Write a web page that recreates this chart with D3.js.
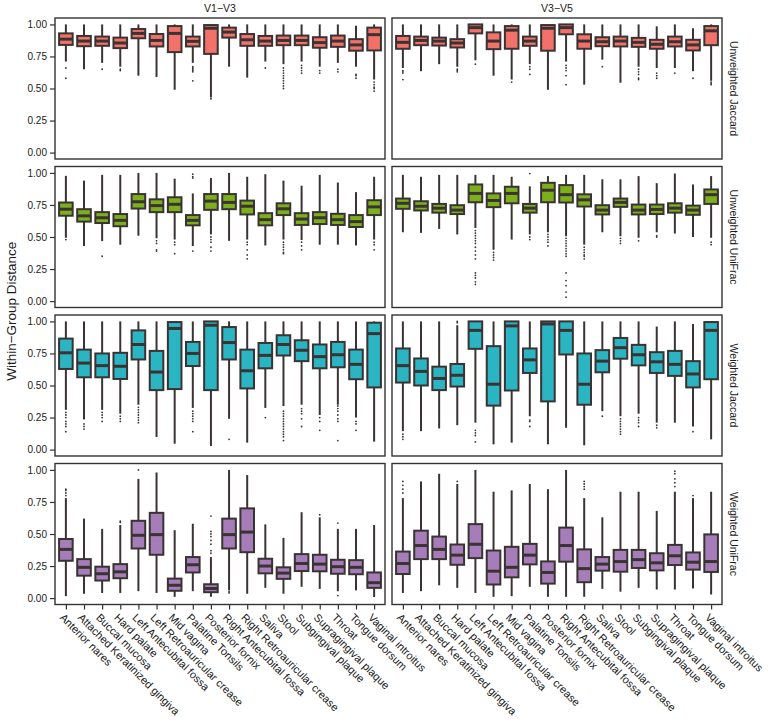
<!DOCTYPE html>
<html><head><meta charset="utf-8">
<script src="https://cdn.jsdelivr.net/npm/d3@7"></script>
<style>body{margin:0;background:#fff}svg{font-family:"Liberation Sans",Arial,sans-serif}</style>
</head><body><svg id="c" width="768" height="724"></svg>
<script>
const categories = ["Anterior nares","Attached Keratinized gingiva","Buccal mucosa","Hard palate","Left Antecubital fossa","Left Retroauricular crease","Mid vagina","Palatine Tonsils","Posterior fornix","Right Antecubital fossa","Right Retroauricular crease","Saliva","Stool","Subgingival plaque","Supragingival plaque","Throat","Tongue dorsum","Vaginal introitus"];
const regions = ["V1\u2212V3","V3\u2212V5"];
const metrics = ["Unweighted Jaccard","Unweighted UniFrac","Weighted Jaccard","Weighted UniFrac"];
const metricColors = ["#F2726A","#7DAF1C","#2BB4C1","#A67DB8"];
const yTicks = [0,0.25,0.5,0.75,1];
const yTickLabels = ["0.00","0.25","0.50","0.75","1.00"];
const yTitle = "Within\u2212Group Distance";

// each box: [lower whisker, q1, median, q3, upper whisker]
const v13UnweightedJaccard = [[0.71,0.84,0.885,0.93,1.0],[0.65,0.83,0.87,0.91,1.0],[0.70,0.833,0.87,0.905,1.0],[0.67,0.815,0.855,0.897,1.0],[0.60,0.892,0.93,0.964,1.0],[0.59,0.828,0.875,0.925,1.0],[0.49,0.784,0.93,0.987,1.0],[0.70,0.828,0.868,0.905,1.0],[0.43,0.77,0.97,0.995,1.0],[0.67,0.897,0.94,0.975,1.0],[0.585,0.833,0.88,0.925,1.0],[0.71,0.833,0.87,0.91,1.0],[0.69,0.838,0.875,0.913,1.0],[0.71,0.838,0.875,0.913,1.0],[0.67,0.818,0.858,0.90,1.0],[0.70,0.825,0.87,0.913,1.0],[0.67,0.795,0.84,0.885,0.99],[0.57,0.797,0.92,0.975,1.0]];
const v35UnweightedJaccard = [[0.66,0.81,0.86,0.91,1.0],[0.635,0.838,0.875,0.905,1.0],[0.69,0.835,0.87,0.897,1.0],[0.67,0.82,0.855,0.885,1.0],[0.72,0.93,0.975,1.0,1.0],[0.60,0.807,0.87,0.938,1.0],[0.57,0.81,0.955,0.987,1.0],[0.69,0.833,0.87,0.905,1.0],[0.49,0.795,0.97,0.995,1.0],[0.71,0.923,0.975,1.0,1.0],[0.53,0.81,0.87,0.923,1.0],[0.725,0.83,0.865,0.90,1.0],[0.545,0.828,0.87,0.905,1.0],[0.67,0.825,0.86,0.895,1.0],[0.66,0.81,0.845,0.88,0.985],[0.66,0.828,0.865,0.905,1.0],[0.635,0.797,0.84,0.88,0.97],[0.56,0.838,0.95,0.987,1.0]];
const v13UnweightedUniFrac = [[0.494,0.666,0.717,0.769,0.977],[0.43,0.62,0.665,0.717,0.94],[0.468,0.609,0.65,0.694,0.985],[0.44,0.584,0.63,0.679,0.985],[0.51,0.722,0.775,0.835,1.0],[0.49,0.694,0.745,0.794,1.0],[0.48,0.694,0.755,0.81,0.955],[0.43,0.591,0.63,0.671,0.84],[0.52,0.712,0.78,0.835,0.96],[0.47,0.717,0.77,0.835,1.0],[0.48,0.676,0.74,0.784,0.97],[0.434,0.591,0.635,0.686,0.99],[0.48,0.671,0.72,0.763,0.94],[0.476,0.594,0.64,0.686,0.90],[0.44,0.601,0.65,0.694,0.985],[0.44,0.594,0.635,0.681,0.925],[0.434,0.578,0.62,0.671,0.85],[0.48,0.671,0.735,0.787,0.97]];
const v35UnweightedUniFrac = [[0.537,0.72,0.763,0.80,0.985],[0.532,0.707,0.74,0.779,0.97],[0.563,0.69,0.725,0.758,0.985],[0.52,0.679,0.71,0.748,0.985],[0.57,0.771,0.84,0.91,0.985],[0.40,0.733,0.785,0.84,0.985],[0.48,0.763,0.84,0.892,0.97],[0.52,0.69,0.725,0.758,0.895],[0.537,0.771,0.865,0.923,0.975],[0.506,0.769,0.83,0.905,0.985],[0.44,0.738,0.79,0.833,0.985],[0.537,0.676,0.71,0.748,0.95],[0.506,0.735,0.77,0.80,0.95],[0.494,0.676,0.71,0.753,0.975],[0.537,0.679,0.715,0.753,0.92],[0.527,0.69,0.725,0.763,0.995],[0.50,0.673,0.71,0.745,0.91],[0.494,0.758,0.83,0.871,0.975]];
const v13WeightedJaccard = [[0.31,0.629,0.755,0.866,1.0],[0.235,0.564,0.675,0.78,1.0],[0.31,0.564,0.655,0.75,1.0],[0.28,0.551,0.65,0.755,1.0],[0.35,0.703,0.82,0.93,1.0],[0.098,0.464,0.605,0.77,1.0],[0.046,0.472,0.945,0.995,1.0],[0.325,0.652,0.75,0.84,1.0],[0.028,0.464,0.97,1.0,1.0],[0.24,0.703,0.835,0.956,1.0],[0.054,0.477,0.615,0.78,1.0],[0.325,0.634,0.735,0.832,1.0],[0.34,0.734,0.82,0.892,1.0],[0.35,0.69,0.775,0.853,1.0],[0.27,0.634,0.725,0.82,1.0],[0.35,0.642,0.74,0.84,1.0],[0.25,0.549,0.665,0.78,1.0],[0.062,0.485,0.905,0.99,1.0]];
const v35WeightedJaccard = [[0.144,0.523,0.655,0.789,1.0],[0.144,0.50,0.61,0.711,1.0],[0.165,0.464,0.555,0.647,1.0],[0.19,0.492,0.58,0.668,0.97],[0.21,0.786,0.93,1.0,1.0],[0.041,0.343,0.51,0.807,1.0],[0.054,0.461,0.965,1.0,1.0],[0.26,0.598,0.70,0.789,1.0],[0.041,0.376,0.98,1.0,1.0],[0.17,0.742,0.93,1.0,1.0],[0.034,0.35,0.51,0.75,1.0],[0.30,0.603,0.69,0.776,1.0],[0.26,0.709,0.795,0.871,1.0],[0.28,0.657,0.74,0.817,1.0],[0.21,0.598,0.685,0.76,0.96],[0.21,0.575,0.665,0.77,1.0],[0.18,0.485,0.59,0.69,0.98],[0.08,0.549,0.93,0.995,1.0]];
const v13WeightedUniFrac = [[0.015,0.291,0.38,0.461,0.78],[0.034,0.175,0.24,0.304,0.62],[0.04,0.137,0.19,0.245,0.54],[0.04,0.155,0.205,0.265,0.57],[0.054,0.387,0.49,0.603,0.93],[0.04,0.338,0.495,0.665,0.98],[0.01,0.057,0.10,0.152,0.53],[0.054,0.20,0.26,0.32,0.58],[0.01,0.046,0.075,0.108,0.32],[0.06,0.387,0.495,0.62,1.0],[0.034,0.358,0.515,0.70,0.96],[0.08,0.193,0.25,0.307,0.575],[0.034,0.15,0.195,0.24,0.47],[0.088,0.211,0.27,0.343,0.67],[0.072,0.209,0.265,0.338,0.63],[0.054,0.19,0.245,0.299,0.54],[0.06,0.186,0.24,0.296,0.54],[0.008,0.08,0.12,0.20,0.57]];
const v35WeightedUniFrac = [[0.04,0.188,0.27,0.363,0.78],[0.054,0.304,0.41,0.526,0.91],[0.10,0.304,0.38,0.48,0.97],[0.08,0.26,0.335,0.418,0.89],[0.04,0.312,0.42,0.577,1.0],[0.01,0.106,0.21,0.371,0.83],[0.015,0.162,0.24,0.40,0.84],[0.088,0.263,0.335,0.423,0.89],[0.01,0.113,0.20,0.286,0.85],[0.01,0.284,0.41,0.55,1.0],[0.01,0.124,0.23,0.38,0.78],[0.072,0.214,0.265,0.32,0.63],[0.05,0.206,0.285,0.376,0.83],[0.08,0.235,0.30,0.376,0.83],[0.067,0.216,0.275,0.35,0.68],[0.067,0.258,0.33,0.415,0.83],[0.075,0.222,0.28,0.356,0.78],[0.028,0.204,0.285,0.497,0.83]];

// outliers per category
const v13UnweightedJaccardOut = [[0.66,0.58],[],[0.65],[0.65,0.64],[],[],[],[0.67,0.66,0.65,0.64,0.63,0.56],[0.42],[],[],[0.66],[0.66,0.64,0.62,0.60,0.58,0.56,0.54,0.52,0.50],[0.68,0.66,0.64,0.62],[0.64,0.62],[0.65,0.63],[0.61,0.60,0.58],[0.55,0.53,0.51,0.50,0.48]];
const v35UnweightedJaccardOut = [[0.64,0.63,0.62,0.57],[],[],[0.65,0.64,0.63],[0.69],[],[0.55],[0.67,0.65,0.61],[],[0.68,0.66,0.64,0.60,0.53],[],[0.67],[],[0.65,0.63,0.61,0.58,0.57],[0.62,0.60,0.58],[0.62],[0.58],[0.55,0.54,0.53]];
const v13UnweightedUniFracOut = [[0.48],[],[0.35],[],[],[0.47,0.45,0.40,0.39],[0.46,0.44,0.37],[0.99,0.97,0.96,0.39],[0.50,0.48,0.46,0.42,0.39],[],[0.46,0.44,0.40,0.36,0.33],[],[0.46,0.44,0.42,0.40,0.38,0.37],[0.46,0.43,0.40],[],[],[],[0.46,0.44,0.40]];
const v35UnweightedUniFracOut = [[],[],[],[],[0.55,0.53,0.51,0.49,0.47,0.45,0.42,0.39,0.36,0.33,0.22,0.20,0.18,0.15,0.13],[0.38,0.36,0.34,0.32],[],[0.995,0.50,0.48],[0.52,0.50,0.48,0.46,0.43],[0.49,0.47,0.45,0.43,0.41,0.39,0.37,0.35,0.22,0.16,0.12,0.07,0.03],[0.42,0.40,0.38,0.36,0.35,0.33],[],[0.49,0.47,0.45],[0.47],[0.51,0.50],[],[],[0.46,0.44]];
const v13WeightedJaccardOut = [[0.29,0.27,0.25,0.22,0.20,0.18,0.14],[0.20,0.18,0.16],[0.29,0.27,0.25,0.22],[0.26,0.24,0.22],[0.33,0.31,0.29,0.27,0.25,0.23,0.21],[],[],[0.30,0.28,0.26,0.24,0.22,0.14],[],[0.08],[],[0.25],[0.30,0.28,0.26,0.24,0.22,0.20,0.18,0.16,0.14,0.12,0.10,0.07],[0.32,0.30,0.28,0.24,0.18],[0.25,0.22,0.15],[0.34,0.32,0.30,0.27,0.24,0.22,0.07],[0.22,0.20,0.15],[]];
const v35WeightedJaccardOut = [[0.12,0.10,0.08],[],[],[0.99,1.0],[0.15,0.13,0.11,0.06],[],[],[0.23,0.22,0.18],[],[],[],[0.26],[0.24,0.22,0.20,0.18,0.16,0.14,0.12],[0.25,0.23,0.21,0.18],[0.19,0.17],[],[0.14],[]];
const v13WeightedUniFracOut = [[0.80,0.82,0.84,0.85],[],[],[0.59,0.60],[1.0],[],[],[],[0.35,0.37,0.42,0.45,0.48,0.50,0.52,0.64],[0.05,0.04],[],[],[],[],[0.65],[0.585,0.02],[],[]];
const v35WeightedUniFracOut = [[0.82,0.85,0.88,0.91],[],[],[0.91],[],[],[],[],[],[],[0.85,0.87,0.89,0.91],[],[],[],[],[0.87,0.90,0.93,0.97,0.99],[0.80],[]];

const panelData = [
  [v13UnweightedJaccard, v35UnweightedJaccard],
  [v13UnweightedUniFrac, v35UnweightedUniFrac],
  [v13WeightedJaccard, v35WeightedJaccard],
  [v13WeightedUniFrac, v35WeightedUniFrac]];
const panelOut = [
  [v13UnweightedJaccardOut, v35UnweightedJaccardOut],
  [v13UnweightedUniFracOut, v35UnweightedUniFracOut],
  [v13WeightedJaccardOut, v35WeightedJaccardOut],
  [v13WeightedUniFracOut, v35WeightedUniFracOut]];

const svg = d3.select("#c");
const colX = [55, 392], panelW = 330;
const rowY = [18, 166.5, 315, 463.5], panelH = 141;
const ink = "#3a3333", txt = "#1a1a1a";

colX.forEach((cx, ci) => {
  svg.append("text").attr("x", cx + panelW/2).attr("y", 12).attr("text-anchor","middle")
    .attr("font-size", 10.5).attr("fill", txt).text(regions[ci]);
});

metrics.forEach((m, ri) => {
  const top = rowY[ri];
  const y = d3.scaleLinear().domain([-0.05, 1.05]).range([top + panelH, top]);
  colX.forEach((cx, ci) => {
    const x = d3.scalePoint().domain(categories).range([cx, cx + panelW]).padding(0.6);
    const bw = x.step() * 0.75;
    const g = svg.append("g");
    g.append("rect").attr("x", cx).attr("y", top).attr("width", panelW).attr("height", panelH)
      .attr("fill", "#fff").attr("stroke", "#333").attr("stroke-width", 1.4);
    const data = panelData[ri][ci], outs = panelOut[ri][ci];
    categories.forEach((c, i) => {
      const [lo, q1, med, q3, hi] = data[i];
      const xc = x(c);
      g.append("line").attr("x1", xc).attr("x2", xc).attr("y1", y(hi)).attr("y2", y(lo))
        .attr("stroke", ink).attr("stroke-width", 2);
      g.append("rect").attr("x", xc - bw/2).attr("width", bw).attr("y", y(q3)).attr("height", y(q1) - y(q3))
        .attr("fill", metricColors[ri]).attr("stroke", ink).attr("stroke-width", 2);
      g.append("line").attr("x1", xc - bw/2).attr("x2", xc + bw/2).attr("y1", y(med)).attr("y2", y(med))
        .attr("stroke", ink).attr("stroke-width", 3);
      outs[i].forEach(o => {
        g.append("circle").attr("cx", xc).attr("cy", y(o)).attr("r", 0.9).attr("fill", ink);
      });
    });
    if (ci === 0) {
      const ax = svg.append("g").attr("transform", `translate(${cx},0)`)
        .call(d3.axisLeft(y).tickValues(yTicks).tickFormat((d, k) => yTickLabels[k]).tickSize(5).tickPadding(3));
      ax.select(".domain").remove();
      ax.selectAll("line").attr("stroke", "#333").attr("stroke-width", 1.2);
      ax.selectAll("text").attr("font-size", 10).attr("fill", txt).attr("font-family", "Liberation Sans, Arial, sans-serif");
    }
    if (ri === metrics.length - 1) {
      const ax = svg.append("g").attr("transform", `translate(0,${top + panelH})`)
        .call(d3.axisBottom(x).tickSize(5).tickFormat(""));
      ax.select(".domain").remove();
      ax.selectAll("line").attr("stroke", "#333").attr("stroke-width", 1.2);
      categories.forEach(c => {
        svg.append("text").attr("transform", `translate(${x(c) - 4},${top + panelH + 11}) rotate(45)`)
          .attr("font-size", 10.9).attr("fill", txt).attr("dy", "0.35em").text(c);
      });
    }
  });
  svg.append("text").attr("transform", `translate(${colX[1] + panelW + 8},${top + panelH/2}) rotate(90)`)
    .attr("text-anchor", "middle").attr("font-size", 10.5).attr("fill", txt).text(m);
});

svg.append("text").attr("transform", `translate(16,${(rowY[0] + rowY[3] + panelH)/2}) rotate(-90)`)
  .attr("text-anchor", "middle").attr("font-size", 13.5).attr("fill", txt).text(yTitle);
</script></body></html>
